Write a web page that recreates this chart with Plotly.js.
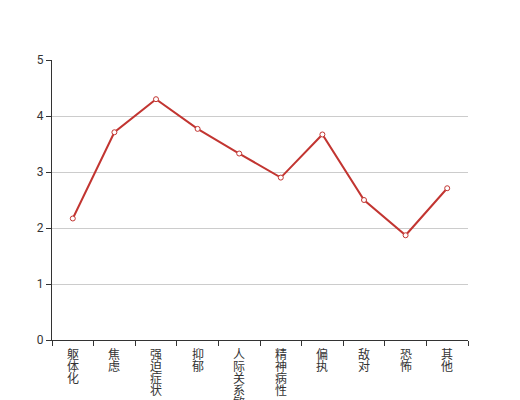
<!DOCTYPE html>
<html>
<head>
<meta charset="utf-8">
<script src="https://cdn.plot.ly/plotly-3.0.1.min.js"></script>
<style>html,body{margin:0;padding:0;background:#fff;}#chart{width:520px;height:400px;}</style>
</head>
<body>
<div id="chart"></div>
<script>
const categories = ["躯体化", "焦虑", "强迫症状", "抑郁", "人际关系敏感", "精神病性", "偏执", "敌对", "恐怖", "其他"];
const values = [2.17, 3.71, 4.30, 3.77, 3.33, 2.90, 3.67, 2.50, 1.87, 2.71];
const yTicks = [0, 1, 2, 3, 4, 5];

// Vertical category labels: one character per line, tight line spacing
const labelAnnotations = [];
categories.forEach(cat => {
  Array.from(cat).forEach((ch, i) => {
    labelAnnotations.push({
      x: cat, xref: "x",
      y: 0, yref: "paper",
      yanchor: "top", xanchor: "center",
      yshift: -4 - i * 12,
      text: ch,
      showarrow: false,
      borderpad: 0,
      font: {family: "'Noto Sans CJK SC', sans-serif", size: 12, color: "#333"}
    });
  });
});

const trace = {
  x: categories,
  y: values,
  type: "scatter",
  mode: "lines+markers",
  line: {color: "#c23531", width: 2},
  marker: {symbol: "circle", size: 5, color: "#ffffff", line: {color: "#c23531", width: 1}},
  cliponaxis: false,
  hoverinfo: "skip"
};

const layout = {
  width: 520,
  height: 400,
  margin: {l: 52, r: 52, t: 60, b: 60},
  paper_bgcolor: "#ffffff",
  plot_bgcolor: "#ffffff",
  showlegend: false,
  font: {family: "'Noto Sans CJK SC', 'Noto Sans', sans-serif", size: 12, color: "#333"},
  annotations: labelAnnotations,
  xaxis: {
    type: "category",
    range: [-0.5, categories.length - 0.5],
    tickmode: "array",
    tickvals: categories,
    showticklabels: false,
    tickson: "boundaries",
    ticks: "outside",
    ticklen: 5,
    tickcolor: "#333",
    showline: true,
    linecolor: "#333",
    linewidth: 1,
    showgrid: false,
    zeroline: false
  },
  yaxis: {
    range: [0, 5],
    tickmode: "array",
    tickvals: yTicks,
    ticktext: yTicks.map(String),
    ticks: "outside",
    ticklen: 5,
    tickcolor: "#333",
    showline: true,
    linecolor: "#333",
    linewidth: 1,
    showgrid: true,
    gridcolor: "#ccc",
    zeroline: false,
    tickfont: {family: "Roboto, 'Noto Sans', sans-serif", size: 12, color: "#333"}
  }
};

Plotly.newPlot("chart", [trace], layout, {displayModeBar: false, staticPlot: true});
</script>
</body>
</html>
